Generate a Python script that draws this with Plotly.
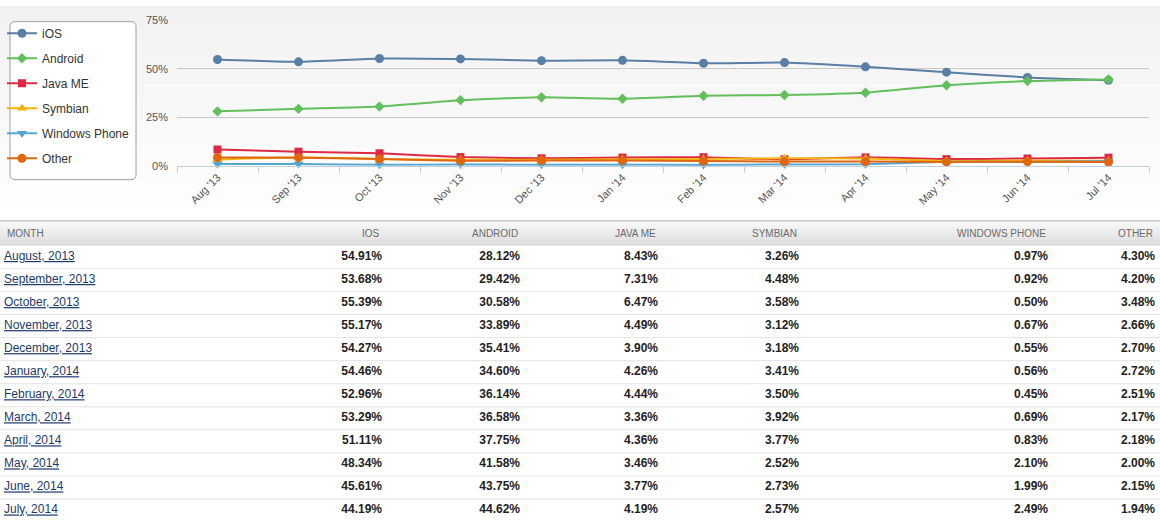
import plotly.graph_objects as go

# monthly mobile OS share (percent), Aug 2013 - Jul 2014
months_short = ["Aug '13", "Sep '13", "Oct '13", "Nov '13", "Dec '13", "Jan '14",
                "Feb '14", "Mar '14", "Apr '14", "May '14", "Jun '14", "Jul '14"]
months_long = ["August, 2013", "September, 2013", "October, 2013", "November, 2013",
               "December, 2013", "January, 2014", "February, 2014", "March, 2014",
               "April, 2014", "May, 2014", "June, 2014", "July, 2014"]

ios = [54.91, 53.68, 55.39, 55.17, 54.27, 54.46, 52.96, 53.29, 51.11, 48.34, 45.61, 44.19]
android = [28.12, 29.42, 30.58, 33.89, 35.41, 34.60, 36.14, 36.58, 37.75, 41.58, 43.75, 44.62]
java_me = [8.43, 7.31, 6.47, 4.49, 3.90, 4.26, 4.44, 3.36, 4.36, 3.46, 3.77, 4.19]
symbian = [3.26, 4.48, 3.58, 3.12, 3.18, 3.41, 3.50, 3.92, 3.77, 2.52, 2.73, 2.57]
windows_phone = [0.97, 0.92, 0.50, 0.67, 0.55, 0.56, 0.45, 0.69, 0.83, 2.10, 1.99, 2.49]
other = [4.30, 4.20, 3.48, 2.66, 2.70, 2.72, 2.51, 2.17, 2.18, 2.00, 2.15, 1.94]

series_names = ["iOS", "Android", "Java ME", "Symbian", "Windows Phone", "Other"]
table_headers = ["MONTH", "IOS", "ANDROID", "JAVA ME", "SYMBIAN", "WINDOWS PHONE", "OTHER"]
y_ticks = [0, 25, 50, 75]

W, H = 1160, 520
FONT = "Liberation Sans, Arial, sans-serif"

styles = [
    ("#5a7fa5", "circle", 9),
    ("#63bf5b", "diamond", 8),
    ("#dd2a44", "square", 8),
    ("#f2b50f", "triangle-up", 9),
    ("#55a7d2", "triangle-down", 9),
    ("#e0670d", "circle", 9),
]

# the photographed page comes out a little squeezed vertically and nudged down,
# so screen rows (from the top) are turned into figure rows before use
SQUEEZE, NUDGE = 0.975, 5.5


def fig_px(t):
    return (t - NUDGE) / SQUEEZE


def paper_y(t):
    return 1 - fig_px(t) / H


# table layout (screen pixels)
col_right = [382, 520, 658, 799, 1048, 1155]
month_left = 4
header_top, header_bottom = 220, 244.5
row_h = 23

fig = go.Figure()

# light gradient behind the chart area
shapes = []
bands = 24
for i in range(bands):
    g = int(0xf2 + (0xff - 0xf2) * i / (bands - 1))
    shapes.append(dict(type="rect", xref="paper", yref="paper", x0=0, x1=1,
                       y0=1 - (i + 1) * 9 / H, y1=1 - i * 9 / H,
                       fillcolor=f"rgb({g},{g},{g})", line_width=0, layer="below"))

for name, vals, (color, sym, size) in zip(series_names,
                                          [ios, android, java_me, symbian, windows_phone, other],
                                          styles):
    fig.add_trace(go.Scatter(
        x=months_short, y=vals, name=name, mode="lines+markers",
        line=dict(color=color, width=2, shape="spline", smoothing=0.5),
        marker=dict(symbol=sym, size=size, color=color),
        legendgroup=name, cliponaxis=False,
    ))

# table body as text on a hidden pair of axes
fig.add_trace(go.Scatter(
    x=[month_left] * len(months_long), y=months_long, mode="text",
    text=[f"<u>{m}</u>" for m in months_long], textposition="middle right",
    textfont=dict(family=FONT, size=12, color="#1d3a6b"),
    xaxis="x2", yaxis="y2", showlegend=False, hoverinfo="skip", cliponaxis=False,
))
for xr, vals in zip(col_right, [ios, android, java_me, symbian, windows_phone, other]):
    fig.add_trace(go.Scatter(
        x=[xr] * len(vals), y=months_long, mode="text",
        text=[f"{v:.2f}%" for v in vals], textposition="middle left",
        textfont=dict(family=FONT, size=12, color="#222", weight="bold"),
        xaxis="x2", yaxis="y2", showlegend=False, hoverinfo="skip", cliponaxis=False,
    ))

# header row
steps = 12
hh = header_bottom - header_top
for i in range(steps):
    g = int(0xfa - (0xfa - 0xda) * i / (steps - 1))
    shapes.append(dict(type="rect", xref="paper", yref="paper", x0=0, x1=1,
                       y0=paper_y(header_top + (i + 1) * hh / steps),
                       y1=paper_y(header_top + i * hh / steps),
                       fillcolor=f"rgb({g},{g},{g})", line_width=0, layer="below"))
shapes.append(dict(type="line", xref="paper", yref="paper", x0=0, x1=1,
                   y0=paper_y(header_top), y1=paper_y(header_top),
                   line=dict(color="#a8a8a8", width=1)))
for k in range(len(months_long)):
    shapes.append(dict(type="line", xref="paper", yref="y2", x0=0, x1=1,
                       y0=k - 0.5, y1=k - 0.5, line=dict(color="#e2e2e2", width=1)))

header_mid = paper_y(header_top + hh / 2)
annotations = [dict(text=table_headers[0], xref="paper", yref="paper",
                    x=(month_left + 1) / W, y=header_mid,
                    xanchor="left", yanchor="middle", showarrow=False,
                    font=dict(family=FONT, size=10, color="#6a6a6a"))]
for xr, h in zip(col_right, table_headers[1:]):
    annotations.append(dict(text=h, xref="paper", yref="paper",
                            x=xr / W, y=header_mid,
                            xanchor="right", yanchor="middle", showarrow=False,
                            font=dict(family=FONT, size=10, color="#6a6a6a")))

# rounded legend box (screen box x 10..136, y 20..180)
hb = 79
rr = 5
shapes.append(dict(type="path", xref="paper", yref="paper", xsizemode="pixel", ysizemode="pixel",
                   xanchor=0, yanchor=paper_y(100),
                   path=(f"M {10 + rr},{-hb} L {136 - rr},{-hb} Q 136,{-hb} 136,{-hb + rr} "
                         f"L 136,{hb - rr} Q 136,{hb} {136 - rr},{hb} L {10 + rr},{hb} "
                         f"Q 10,{hb} 10,{hb - rr} L 10,{-hb + rr} Q 10,{-hb} {10 + rr},{-hb} Z"),
                   fillcolor="white", line=dict(color="#a0a0a0", width=1), layer="below"))

# rows: screen row k is centred at header_bottom + (k + 0.5) * row_h
rows_top = fig_px(header_bottom)
row_px = row_h / SQUEEZE
rows_bottom_value = -0.5 + (H - rows_top) / row_px

fig.update_layout(
    width=W, height=H,
    margin=dict(l=0, r=0, t=0, b=0),
    paper_bgcolor="white", plot_bgcolor="rgba(0,0,0,0)",
    font=dict(family=FONT, size=12, color="#333"),
    shapes=shapes, annotations=annotations,
    showlegend=True,
    legend=dict(x=2 / W, y=1 - 13 / H, xanchor="left", yanchor="top",
                bgcolor="rgba(0,0,0,0)", borderwidth=0, tracegroupgap=6,
                font=dict(family=FONT, size=12, color="#333"), itemwidth=30),
    xaxis=dict(domain=[177 / W, 1149 / W], type="category", range=[-0.5, 11.5],
               showgrid=False, zeroline=False,
               showline=True, linecolor="#c0d0e0", linewidth=1,
               ticks="outside", tickson="boundaries", ticklen=6, tickcolor="#c0d0e0",
               tickangle=-45, tickfont=dict(family=FONT, size=11, color="#555")),
    yaxis=dict(domain=[paper_y(165), paper_y(20)], range=[0, 75],
               tickmode="array", tickvals=y_ticks, ticktext=[f"{t}%" for t in y_ticks],
               showgrid=True, gridcolor="#c8c8c8", gridwidth=1, zeroline=False,
               ticklabelstandoff=8,
               tickfont=dict(family=FONT, size=11, color="#555")),
    xaxis2=dict(domain=[0, 1], range=[0, W], visible=False, anchor="y2", fixedrange=True),
    yaxis2=dict(domain=[0, 1 - rows_top / H], type="category",
                categoryorder="array", categoryarray=months_long,
                range=[rows_bottom_value, -0.5], visible=False, anchor="x2",
                fixedrange=True),
)

# pin the figure to the top-left corner of the page
page_fix = """
var body = document.body;
document.documentElement.style.overflow = 'hidden';
body.style.overflow = 'hidden'; body.style.margin = '0';
"""
fig.write_html("out.html", config={"displayModeBar": False}, post_script=page_fix)
